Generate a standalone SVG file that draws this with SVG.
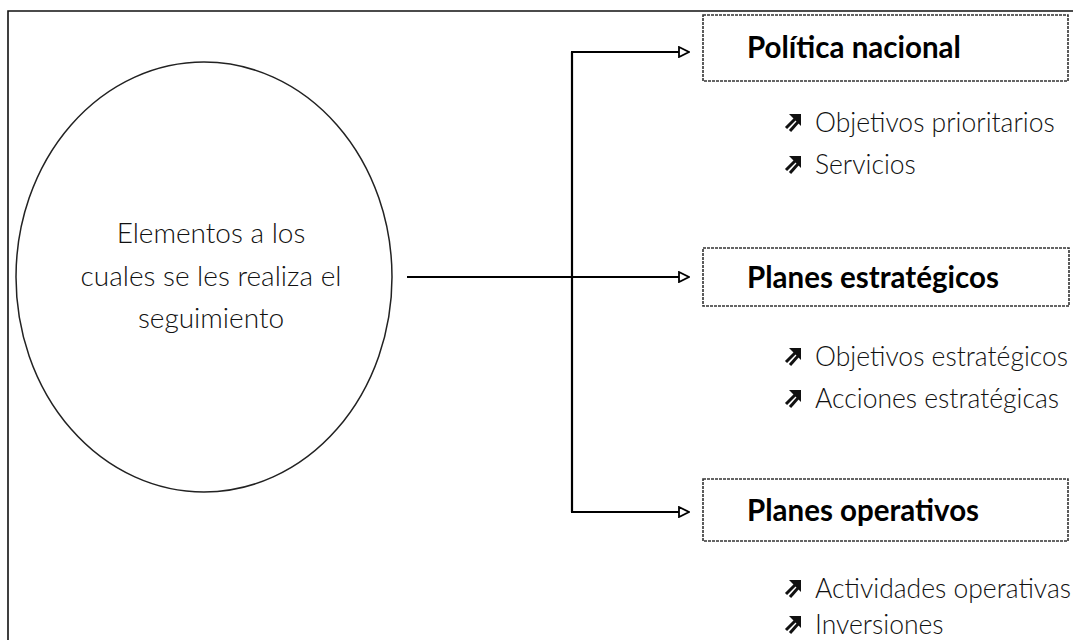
<svg xmlns="http://www.w3.org/2000/svg" width="1073" height="640" viewBox="0 0 1073 640">
  <style>
    .frame { fill: none; stroke: #111; stroke-width: 1.6; }
    .oval { fill: none; stroke: #222; stroke-width: 1.5; }
    .box { fill: none; stroke: #333; stroke-width: 1.6; stroke-dasharray: 3 1; }
    .conn { fill: none; stroke: #000; stroke-width: 2.2; }
    .title { font-family: Lato, "Open Sans", sans-serif; font-weight: 700; font-size: 29.5px; fill: #000; }
    .body { font-family: Lato, "Open Sans", sans-serif; font-weight: 300; font-size: 26.5px; fill: #111; }
    .center { font-family: Lato, "Open Sans", sans-serif; font-weight: 300; font-size: 28px; fill: #111; text-anchor: middle; }
  </style>
  <defs>
    <marker id="arrow" viewBox="0 0 12 12" refX="11" refY="6" markerWidth="12" markerHeight="12" markerUnits="userSpaceOnUse" orient="auto">
      <path d="M1,1 L11,6 L1,11 Z" fill="#fff" stroke="#000" stroke-width="1.8"/>
    </marker>
    <g id="bullet">
      <path d="M4,0 L16,0 L16,12 Z" fill="#111"/>
      <line x1="1" y1="14" x2="10" y2="5" stroke="#111" stroke-width="3"/>
      <line x1="5" y1="17" x2="13" y2="8" stroke="#111" stroke-width="3"/>
    </g>
  </defs>

  <g id="frame">
    <path class="frame" d="M1073,11 L8,11 L8,640"/>
  </g>

  <g id="node-center">
    <ellipse class="oval" cx="204" cy="277" rx="188" ry="215"/>
    <text class="center" x="211" y="243">Elementos a los</text>
    <text class="center" x="211" y="286">cuales se les realiza el</text>
    <text class="center" x="211" y="328">seguimiento</text>
  </g>

  <g id="connectors">
    <line class="conn" x1="407" y1="277" x2="689" y2="277" marker-end="url(#arrow)"/>
    <line class="conn" x1="572" y1="52" x2="572" y2="512"/>
    <line class="conn" x1="571" y1="52" x2="689" y2="52" marker-end="url(#arrow)"/>
    <line class="conn" x1="571" y1="512" x2="689" y2="512" marker-end="url(#arrow)"/>
  </g>

  <g id="node-politica">
    <rect class="box" x="703" y="15" width="365" height="66"/>
    <text class="title" x="747" y="58">Política nacional</text>
    <use href="#bullet" x="785" y="114"/>
    <text class="body" x="815" y="132">Objetivos prioritarios</text>
    <use href="#bullet" x="785" y="156"/>
    <text class="body" x="815" y="174">Servicios</text>
  </g>

  <g id="node-estrategicos">
    <rect class="box" x="703" y="248" width="366" height="58"/>
    <text class="title" x="747" y="288">Planes estratégicos</text>
    <use href="#bullet" x="785" y="348"/>
    <text class="body" x="815" y="366">Objetivos estratégicos</text>
    <use href="#bullet" x="785" y="390"/>
    <text class="body" x="815" y="408">Acciones estratégicas</text>
  </g>

  <g id="node-operativos">
    <rect class="box" x="703" y="479" width="365" height="62"/>
    <text class="title" x="747" y="521">Planes operativos</text>
    <use href="#bullet" x="785" y="580"/>
    <text class="body" x="815" y="598">Actividades operativas</text>
    <use href="#bullet" x="785" y="616"/>
    <text class="body" x="815" y="634">Inversiones</text>
  </g>
</svg>
